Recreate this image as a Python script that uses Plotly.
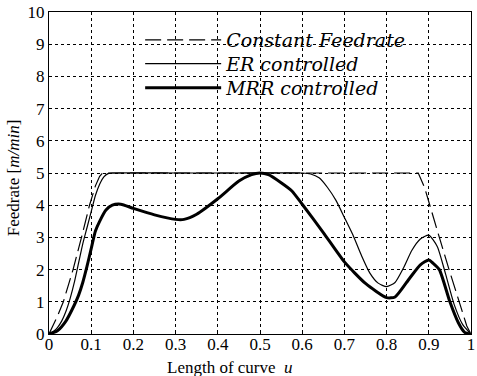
import plotly.graph_objects as go

x_const = [0, 0.02, 0.034, 0.057, 0.077, 0.096, 0.11, 0.12, 0.127, 0.875, 0.89, 0.902, 0.925, 0.948, 0.972, 0.99, 1.0]
y_const = [0, 0.55, 1, 2, 3, 4, 4.6, 4.9, 5, 5, 4.55, 4, 3, 2, 1, 0.25, 0]

x_er = [0, 0.01, 0.02, 0.03, 0.04, 0.05, 0.06, 0.07, 0.08, 0.09, 0.10, 0.11, 0.12, 0.13, 0.14, 0.15,
        0.3, 0.45, 0.6, 0.62, 0.64, 0.66, 0.68, 0.70, 0.72, 0.74, 0.76, 0.78, 0.80, 0.82, 0.84, 0.86,
        0.88, 0.90, 0.92, 0.94, 0.96, 0.98, 1.0]
y_er = [0, 0.08, 0.2, 0.4, 0.7, 1.1, 1.6, 2.2, 2.8, 3.3, 3.8, 4.3, 4.65, 4.88, 4.98, 5,
        5, 5, 5, 4.97, 4.85, 4.55, 4.15, 3.62, 3.08, 2.45, 1.9, 1.58, 1.47, 1.6, 2.05, 2.6,
        2.95, 3.07, 2.72, 1.85, 0.92, 0.3, 0]

x_mrr = [0, 0.02, 0.04, 0.06, 0.07, 0.08, 0.09, 0.10, 0.11, 0.12, 0.135, 0.15, 0.17, 0.2, 0.25,
         0.3, 0.32, 0.35, 0.4, 0.45, 0.48, 0.5, 0.52, 0.55, 0.575, 0.6, 0.65, 0.7, 0.75, 0.8,
         0.82, 0.855, 0.88, 0.9, 0.91, 0.925, 0.95, 0.97, 0.985, 1.0]
y_mrr = [0, 0.1, 0.4, 0.9, 1.2, 1.6, 2.1, 2.65, 3.2, 3.5, 3.85, 4.0, 4.03, 3.9, 3.7,
         3.56, 3.56, 3.72, 4.2, 4.75, 4.95, 5.0, 4.95, 4.7, 4.45, 4.03, 3.15, 2.24, 1.57, 1.13,
         1.15, 1.74, 2.15, 2.3, 2.2, 2.0, 1.0, 0.35, 0.05, 0]

x_ticks = [0, 0.1, 0.2, 0.3, 0.4, 0.5, 0.6, 0.7, 0.8, 0.9, 1]
x_ticklabels = ["0", "0.1", "0.2", "0.3", "0.4", "0.5", "0.6", "0.7", "0.8", "0.9", "1"]
y_ticks = list(range(0, 11))

SERIF = "Liberation Serif"

fig = go.Figure()
fig.add_trace(go.Scatter(x=x_const, y=y_const, mode="lines", name="Constant Feedrate",
                         legend="legend",
                         line=dict(color="black", width=1.2, dash="16px,6px")))
fig.add_trace(go.Scatter(x=x_er, y=y_er, mode="lines", name="ER controlled",
                         legend="legend2",
                         line=dict(color="black", width=1.2, shape="spline", smoothing=0.6)))
fig.add_trace(go.Scatter(x=x_mrr, y=y_mrr, mode="lines", name="MRR controlled",
                         legend="legend3",
                         line=dict(color="black", width=3, shape="spline", smoothing=0.6)))

axis_common = dict(showline=True, linecolor="black", linewidth=1.2, mirror=True,
                   showgrid=True, gridcolor="black", griddash="dot", gridwidth=1,
                   zeroline=False, ticks="inside", ticklen=3, tickcolor="black",
                   ticklabeloverflow="allow",
                   tickfont=dict(family=SERIF, size=17, color="black"))

fig.update_xaxes(range=[0, 1], tickvals=x_ticks, ticktext=x_ticklabels,
                 ticklabelstandoff=-6, **axis_common)
fig.update_yaxes(range=[0, 10], tickvals=y_ticks, **axis_common)

legend_common = dict(xanchor="left", yanchor="middle", x=0.216,
                     bgcolor="rgba(0,0,0,0)", borderwidth=0, itemwidth=76,
                     font=dict(family="DejaVu Serif", size=19, color="black", style="italic"))

fig.update_layout(
    width=477, height=376,
    margin=dict(l=49, r=2, t=12, b=42),
    paper_bgcolor="white", plot_bgcolor="white",
    showlegend=True,
    legend=dict(y=0.913, **legend_common),
    legend2=dict(y=0.839, **legend_common),
    legend3=dict(y=0.764, **legend_common),
    annotations=[
        dict(text="Length of curve  <i>u</i>", xref="paper", yref="paper",
             x=0.43, y=-0.103, xanchor="center", yanchor="middle", showarrow=False,
             font=dict(family=SERIF, size=17, color="black")),
        dict(text="Feedrate [<i>m/min</i>]", xref="paper", yref="paper",
             x=-0.0845, y=0.485, xanchor="center", yanchor="middle", showarrow=False,
             textangle=-90, font=dict(family=SERIF, size=17, color="black")),
    ],
)

fig.write_html("out.html")
